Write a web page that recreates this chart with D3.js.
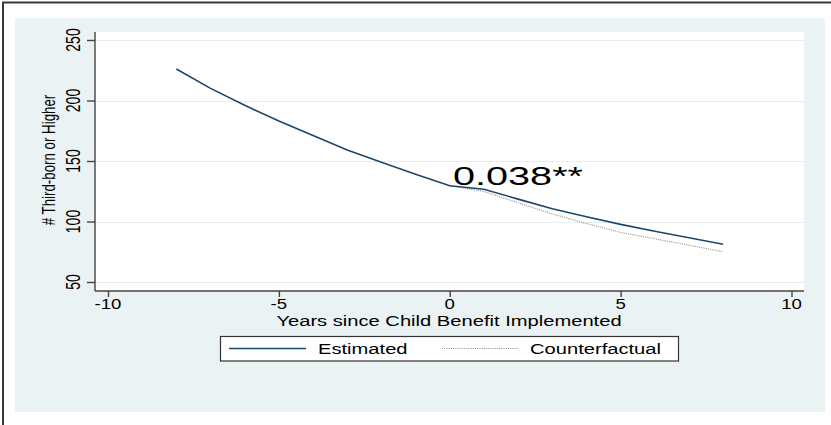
<!DOCTYPE html>
<html>
<head>
<meta charset="utf-8">
<script src="https://cdn.jsdelivr.net/npm/d3@7"></script>
<style>
  html, body { margin: 0; padding: 0; background: #ffffff; }
  svg { display: block; }
  text { font-family: "Liberation Sans", Arial, Helvetica, sans-serif; fill: #000; }
</style>
</head>
<body>
<svg id="chart" width="831" height="425"></svg>
<script>
// ---- data ----
const years = [-8, -7, -6, -5, -4, -3, -2, -1, 0, 1, 2, 3, 4, 5, 6, 7, 8];
const estimated = [226, 210, 196, 183, 171, 159, 149, 139, 129.6, 126.6, 118.5, 110.5, 103.9, 97.6, 92, 86.5, 81.2];
const cfYears = [0, 1, 2, 3, 4, 5, 6, 7, 8];
const counterfactual = [129.6, 124.8, 115.5, 106.2, 98.3, 91, 85.7, 80.4, 75];
const xTicks = [-10, -5, 0, 5, 10];
const yTicks = [50, 100, 150, 200, 250];
const seriesNames = ["Estimated", "Counterfactual"];
const annotation = "0.038**";
const xTitle = "Years since Child Benefit Implemented";
const yTitle = "# Third-born or Higher";

// ---- layout ----
const W = 831, H = 425;
const plot = { left: 95, right: 804, top: 32, bottom: 291 };
const SX = 1.3; // horizontal text stretch of the reference
const svg = d3.select("#chart");

const x = d3.scaleLinear().domain([-10, 10]).range([108, 791.5]);
const y = d3.scaleLinear().domain([50, 250]).range([282, 40]);

// outer frame (left and top edges visible)
svg.append("path").attr("d", `M3,${H} L3,2.5 L${W},2.5`).attr("fill", "none")
  .attr("stroke", "#3a3a3a").attr("stroke-width", 2);

// graph region background
svg.append("rect").attr("x", 15).attr("y", 18).attr("width", 810).attr("height", 394)
  .attr("fill", "#eaf2f3");

// plot region
svg.append("rect").attr("x", plot.left).attr("y", plot.top)
  .attr("width", plot.right - plot.left).attr("height", plot.bottom - plot.top)
  .attr("fill", "#ffffff");

// gridlines
svg.append("g").selectAll("line").data(yTicks).join("line")
  .attr("x1", plot.left).attr("x2", plot.right)
  .attr("y1", d => Math.round(y(d)) + 0.5).attr("y2", d => Math.round(y(d)) + 0.5)
  .attr("stroke", "#e6eef0").attr("stroke-width", 1.2);

// y axis
const yAxis = d3.axisLeft(y).tickValues(yTicks).tickSize(8).tickFormat("");
const gy = svg.append("g").attr("transform", `translate(${plot.left},0)`).call(yAxis);
gy.select(".domain").attr("d", `M0,${plot.top}V${plot.bottom}`).attr("stroke", "#444").attr("stroke-width", 1.4);
gy.selectAll(".tick line").attr("stroke", "#444").attr("stroke-width", 1.4);

// x axis
const xAxis = d3.axisBottom(x).tickValues(xTicks).tickSize(6).tickFormat("");
const gx = svg.append("g").attr("transform", `translate(0,${plot.bottom})`).call(xAxis);
gx.select(".domain").attr("d", `M${plot.left},0H${plot.right}`).attr("stroke", "#444").attr("stroke-width", 1.4);
gx.selectAll(".tick line").attr("stroke", "#444").attr("stroke-width", 1.4);

// tick labels
svg.append("g").selectAll("text").data(xTicks).join("text")
  .attr("transform", d => `translate(${x(d)},309) scale(${SX},1)`)
  .attr("text-anchor", "middle").attr("font-size", 14.3)
  .text(d => d);

svg.append("g").selectAll("text").data(yTicks).join("text")
  .attr("transform", d => `translate(80,${y(d)}) scale(1.45,1) rotate(-90)`)
  .attr("text-anchor", "middle").attr("font-size", 14)
  .text(d => d);

// axis titles
svg.append("text")
  .attr("transform", `translate(449,326) scale(${SX},1)`)
  .attr("text-anchor", "middle").attr("font-size", 15.5)
  .text(xTitle);

svg.append("text")
  .attr("transform", `translate(54.5,160) scale(1.4,1) rotate(-90)`)
  .attr("text-anchor", "middle").attr("font-size", 13.3)
  .text(yTitle);

// lines
const line = d3.line().x(d => x(d[0])).y(d => y(d[1]));
svg.append("path")
  .datum(cfYears.map((t, i) => [t, counterfactual[i]]))
  .attr("d", line).attr("fill", "none")
  .attr("stroke", "#8a8a8a").attr("stroke-width", 1.1).attr("stroke-dasharray", "1,1.2");
svg.append("path")
  .datum(years.map((t, i) => [t, estimated[i]]))
  .attr("d", line).attr("fill", "none")
  .attr("stroke", "#1a476f").attr("stroke-width", 1.6);

// annotation
svg.append("text")
  .attr("x", 453).attr("y", 185)
  .attr("font-size", 25.5)
  .attr("textLength", 130).attr("lengthAdjust", "spacingAndGlyphs")
  .text(annotation);

// legend
const lg = svg.append("g");
lg.append("rect").attr("x", 220.5).attr("y", 336.5).attr("width", 458).attr("height", 24.5)
  .attr("fill", "#ffffff").attr("stroke", "#333").attr("stroke-width", 1.2);
lg.append("line").attr("x1", 229).attr("x2", 306).attr("y1", 348.5).attr("y2", 348.5)
  .attr("stroke", "#1a476f").attr("stroke-width", 1.6);
lg.append("text").attr("transform", `translate(318,354) scale(${SX},1)`)
  .attr("font-size", 15.5).text(seriesNames[0]);
lg.append("line").attr("x1", 442).attr("x2", 518).attr("y1", 348.5).attr("y2", 348.5)
  .attr("stroke", "#8a8a8a").attr("stroke-width", 1.1).attr("stroke-dasharray", "1,1.2");
lg.append("text").attr("transform", `translate(530,354) scale(${SX},1)`)
  .attr("font-size", 15.5).text(seriesNames[1]);
</script>
</body>
</html>
